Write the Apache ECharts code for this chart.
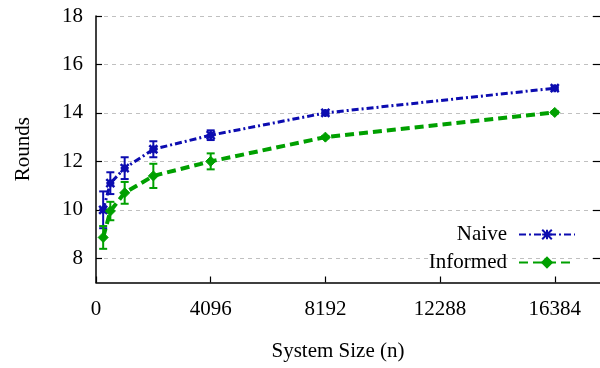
<!DOCTYPE html>
<html>
<head>
<meta charset="utf-8">
<script src="https://cdn.jsdelivr.net/npm/echarts@6/dist/echarts.min.js"></script>
<style>html,body{margin:0;padding:0;background:#fff}#c{width:600px;height:368px}</style>
</head>
<body>
<div id="c"></div>
<script>
const sizes = [256, 512, 1024, 2048, 4096, 8192, 16384];
const naive = [10.0, 11.1, 11.72, 12.5, 13.08, 14.0, 15.02];
const naiveErr = [0.76, 0.45, 0.45, 0.33, 0.2, 0.05, 0.07];
const informed = [8.86, 9.95, 10.7, 11.4, 12.0, 13.0, 14.02];
const informedErr = [0.47, 0.38, 0.45, 0.5, 0.33, 0.05, 0.05];
const xTicks = [0, 4096, 8192, 12288, 16384];
const yTicks = [8, 10, 12, 14, 16, 18];

const BLUE = '#0c0cb0';
const GREEN = '#00a000';
const FONT = 'Liberation Serif';

const chart = echarts.init(document.getElementById('c'), null, {renderer: 'canvas'});

function errSeries(name, vals, errs, color) {
  return {
    type: 'custom',
    name: name + ' err',
    silent: true,
    z: 1,
    data: sizes.map((s, i) => [s, vals[i] - errs[i], vals[i] + errs[i]]),
    renderItem: function (params, api) {
      const lo = api.coord([api.value(0), api.value(1)]);
      const hi = api.coord([api.value(0), api.value(2)]);
      const w = 4;
      const st = {stroke: color, lineWidth: 2};
      return {
        type: 'group',
        children: [
          {type: 'line', shape: {x1: lo[0], y1: lo[1], x2: hi[0], y2: hi[1]}, style: st},
          {type: 'line', shape: {x1: lo[0] - w, y1: lo[1], x2: lo[0] + w, y2: lo[1]}, style: st},
          {type: 'line', shape: {x1: hi[0] - w, y1: hi[1], x2: hi[0] + w, y2: hi[1]}, style: st}
        ]
      };
    }
  };
}

const option = {
  animation: false,
  backgroundColor: '#fff',
  textStyle: {fontFamily: FONT},
  grid: {left: 96, right: 0, top: 16, bottom: 85.5, containLabel: false},
  legend: {
    orient: 'vertical',
    right: 19,
    top: 219,
    align: 'right',
    itemWidth: 56,
    itemHeight: 12,
    itemGap: 7,
    data: ['Naive', 'Informed'],
    textStyle: {fontFamily: FONT, fontSize: 21, color: '#000', padding: [0, 7, 0, 0]}
  },
  xAxis: {
    type: 'value',
    min: 0,
    max: 18000,
    interval: 4096,
    name: 'System Size (n)',
    nameLocation: 'middle',
    nameGap: 58,
    nameTextStyle: {fontFamily: FONT, fontSize: 21, color: '#000', padding: [0, 20, 0, 0]},
    axisLine: {lineStyle: {color: '#000', width: 1.5}},
    axisTick: {inside: true, length: 6, lineStyle: {color: '#000', width: 1.2}, customValues: xTicks},
    axisLabel: {fontFamily: FONT, fontSize: 21, color: '#000', margin: 16, customValues: xTicks,
      formatter: function (v) { return String(v); }},
    splitLine: {show: false}
  },
  yAxis: [{
    type: 'value',
    min: 7,
    max: 18,
    name: 'Rounds',
    nameLocation: 'middle',
    nameGap: 62,
    nameTextStyle: {fontFamily: FONT, fontSize: 21, color: '#000'},
    axisLine: {show: true, lineStyle: {color: '#000', width: 1.5}},
    axisTick: {show: true, inside: true, length: 6, lineStyle: {color: '#000', width: 1.2}, customValues: yTicks},
    axisLabel: {fontFamily: FONT, fontSize: 21, color: '#000', margin: 13, customValues: yTicks},
    splitLine: {show: true, lineStyle: {color: '#c0c0c0', type: [4, 4], width: 1}}
  }, {
    type: 'value',
    min: 7,
    max: 18,
    position: 'right',
    axisLine: {show: false},
    axisTick: {show: true, inside: true, length: 7, lineStyle: {color: '#000', width: 1.2}, customValues: yTicks},
    axisLabel: {show: false},
    splitLine: {show: false}
  }],
  series: [
    errSeries('Naive', naive, naiveErr, BLUE),
    errSeries('Informed', informed, informedErr, GREEN),
    {
      name: 'Naive',
      type: 'line',
      z: 3,
      data: sizes.map((s, i) => [s, naive[i]]),
      symbol: 'path://M0,0L10,10M10,0L0,10M5,0L5,10M0,5L10,5',
      symbolSize: 8,
      showAllSymbol: true,
      itemStyle: {color: BLUE, borderColor: BLUE, borderWidth: 2.5},
      lineStyle: {color: BLUE, width: 3, type: [7, 3, 2, 3]}
    },
    {
      name: 'Informed',
      type: 'line',
      z: 3,
      data: sizes.map((s, i) => [s, informed[i]]),
      symbol: 'diamond',
      symbolSize: 10,
      showAllSymbol: true,
      itemStyle: {color: GREEN, borderColor: GREEN, borderWidth: 1},
      lineStyle: {color: GREEN, width: 4, type: [9, 5]}
    }
  ]
};
chart.setOption(option);
</script>
</body>
</html>
